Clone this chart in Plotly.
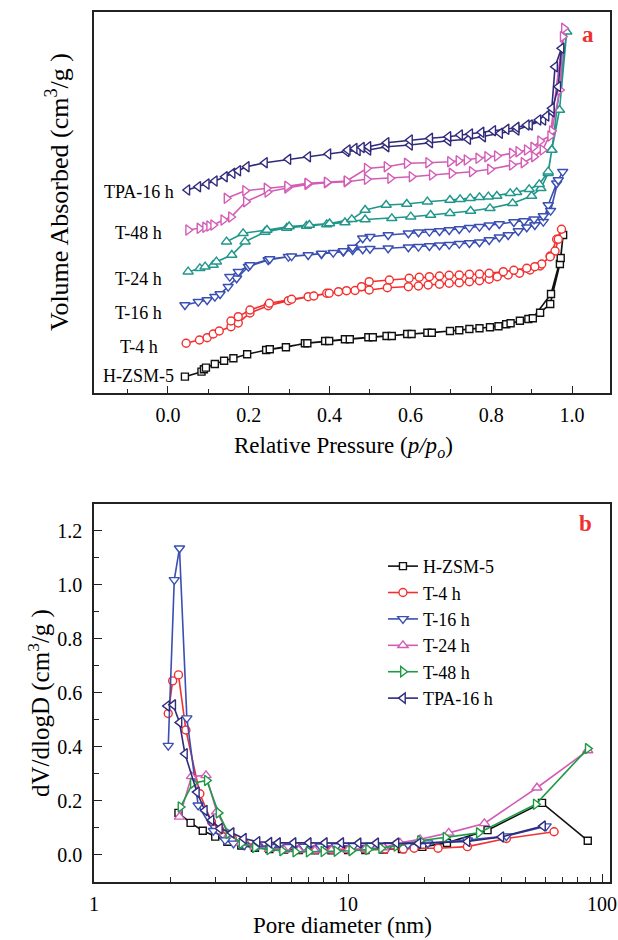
import plotly.graph_objects as go

# ================= Panel (a): N2 isotherms (offset, arbitrary units) =================
# H-ZSM-5
hz_ads_p = [0.042,0.083,0.089,0.094,0.116,0.139,0.162,0.196,0.243,0.292,0.339,0.389,0.438,0.496,0.541,0.592,0.642,0.698,0.746,0.797,0.837,0.871,0.892,0.921,0.946,0.970,0.978]
hz_ads_v = [16.3,21.3,23.7,25.3,29.0,32.3,34.7,38.7,43.0,45.7,49.7,52.0,53.7,55.7,57.0,59.0,60.3,62.0,64.0,65.7,68.7,72.3,74.0,80.3,89.0,129.0,158.0]
hz_des_p = [0.972,0.948,0.903,0.848,0.818,0.771,0.721,0.653,0.603,0.554,0.507,0.450,0.399,0.345,0.252]
hz_des_v = [135.0,99.0,74.7,69.7,66.7,64.7,62.7,60.3,59.0,57.0,55.7,53.7,52.0,49.7,43.7]

# T-4 h
t4_ads_p = [0.045,0.078,0.097,0.112,0.127,0.156,0.174,0.203,0.248,0.298,0.347,0.393,0.422,0.463,0.498,0.543,0.595,0.620,0.644,0.672,0.696,0.721,0.746,0.771,0.795,0.815,0.842,0.870,0.896,0.921,0.946,0.962,0.974]
t4_ads_v = [49.7,53.0,55.3,59.0,62.0,66.3,70.0,80.0,87.3,92.3,96.3,99.7,101.3,102.5,103.0,105.3,106.3,107.0,108.0,108.7,109.7,110.3,111.3,112.3,113.7,116.3,118.0,119.7,123.0,127.0,137.0,153.7,163.7]
t4_des_p = [0.966,0.958,0.946,0.925,0.908,0.888,0.856,0.830,0.795,0.771,0.746,0.721,0.696,0.672,0.647,0.622,0.597,0.548,0.498,0.479,0.442,0.399,0.361,0.306,0.251,0.203,0.174,0.156]
t4_des_v = [153.7,142.0,136.3,129.0,126.3,124.7,122.7,121.3,119.7,119.0,118.7,118.0,117.7,117.0,116.3,115.7,114.7,113.0,111.3,106.3,102.3,99.7,97.0,93.7,89.7,83.0,76.3,72.0]

# T-16 h
t16_ads_p = [0.042,0.075,0.097,0.116,0.129,0.149,0.170,0.199,0.248,0.298,0.347,0.380,0.409,0.434,0.457,0.482,0.500,0.545,0.595,0.620,0.647,0.672,0.696,0.721,0.746,0.771,0.795,0.820,0.842,0.867,0.888,0.908,0.929,0.941,0.962,0.977]
t16_ads_v = [88.0,91.3,93.0,96.3,99.0,106.3,114.7,126.3,133.0,136.3,138.0,139.0,140.3,141.3,143.0,143.7,144.2,144.7,145.7,146.3,147.0,147.7,148.3,149.3,150.0,150.7,153.0,155.7,158.0,162.0,165.7,168.0,171.3,188.0,209.7,221.3]
t16_des_p = [0.966,0.947,0.929,0.906,0.881,0.856,0.820,0.795,0.771,0.746,0.721,0.696,0.672,0.647,0.620,0.595,0.545,0.500,0.482,0.457,0.434,0.380,0.306,0.252,0.203,0.174,0.153]
t16_des_v = [213.0,182.3,177.0,173.7,172.0,171.0,169.0,167.7,166.3,165.3,164.0,163.0,162.0,161.3,160.7,159.7,158.0,156.3,154.7,145.5,142.0,139.5,136.8,134.0,128.0,121.3,116.3]

# T-24 h (panel a)
t24_ads_p = [0.050,0.079,0.092,0.112,0.120,0.158,0.191,0.240,0.294,0.343,0.393,0.438,0.488,0.554,0.601,0.650,0.698,0.749,0.797,0.853,0.900,0.923,0.941,0.950,0.969,0.987]
t24_ads_v = [121.3,124.7,126.3,128.0,131.3,138.0,151.3,161.0,165.0,167.0,168.5,170.5,173.5,174.7,176.3,178.0,179.7,182.0,184.7,189.7,197.0,204.7,219.7,243.0,283.0,361.3]
t24_des_p = [0.950,0.941,0.919,0.894,0.863,0.847,0.814,0.793,0.771,0.748,0.723,0.698,0.642,0.591,0.540,0.488,0.455,0.400,0.350,0.300,0.245,0.186,0.145]
t24_des_v = [243.0,221.3,208.7,203.7,200.7,199.7,197.0,196.3,195.7,194.7,193.7,193.0,191.3,189.0,188.0,183.0,173.7,169.5,168.0,166.5,163.0,159.7,151.3]

# T-48 h (panel a)
t48_ads_p = [0.050,0.078,0.092,0.102,0.112,0.137,0.156,0.193,0.246,0.295,0.345,0.393,0.442,0.492,0.550,0.603,0.653,0.702,0.752,0.797,0.851,0.880,0.906,0.927,0.950,0.970,0.980]
t48_ads_v = [163.0,164.7,165.7,167.0,168.0,173.0,176.0,191.3,201.0,205.0,208.5,210.3,211.3,213.7,214.7,216.3,218.0,219.7,221.3,223.7,228.0,230.3,236.3,243.0,262.0,303.0,364.7]
t48_des_p = [0.977,0.946,0.921,0.904,0.888,0.867,0.851,0.814,0.790,0.768,0.739,0.719,0.698,0.644,0.591,0.541,0.492,0.442,0.393,0.345,0.295,0.244,0.191,0.145]
t48_des_v = [356.3,257.0,252.0,245.7,243.0,241.3,239.7,237.0,236.3,234.7,233.0,232.3,231.3,230.3,229.7,226.3,224.5,212.0,210.8,209.7,206.8,204.7,202.3,194.7]

# TPA-16 h
tpa_ads_p = [0.048,0.075,0.096,0.116,0.141,0.160,0.174,0.195,0.240,0.298,0.347,0.397,0.442,0.470,0.496,0.541,0.599,0.649,0.694,0.743,0.780,0.822,0.863,0.896,0.929,0.950,0.966,0.974]
tpa_ads_v = [203.0,206.3,209.0,212.0,216.3,219.7,222.3,226.3,230.3,233.7,236.3,239.0,241.5,242.5,243.0,246.3,248.0,250.3,252.3,253.7,256.3,259.7,263.0,268.0,273.0,281.3,306.3,344.7]
tpa_des_p = [0.958,0.950,0.937,0.917,0.888,0.863,0.838,0.805,0.776,0.748,0.723,0.694,0.649,0.599,0.541,0.496,0.480,0.462,0.445]
tpa_des_v = [326.3,284.7,277.0,273.0,268.0,265.7,263.7,262.3,260.7,259.0,258.0,256.3,254.7,253.0,250.3,246.3,245.5,244.5,243.0]

# ================= Panel (b): BJH pore size distribution =================
hz_d = [2.15,2.40,2.68,3.00,3.35,3.80,4.30,4.90,5.60,6.40,7.40,8.60,10.0,11.7,13.8,16.3,19.6,24.5,35.4,58.0,87.8]
hz_dv = [0.156,0.119,0.090,0.068,0.049,0.035,0.027,0.022,0.020,0.018,0.017,0.017,0.018,0.018,0.020,0.022,0.030,0.045,0.092,0.193,0.053]

t4_d = [1.96,2.04,2.15,2.30,2.61,2.90,3.13,3.50,3.90,4.40,5.00,5.70,6.50,7.50,8.70,10.1,11.8,14.0,16.5,18.2,22.6,29.5,42.0,64.7]
t4_dv = [0.524,0.645,0.667,0.463,0.227,0.123,0.092,0.062,0.045,0.035,0.030,0.026,0.024,0.022,0.021,0.021,0.021,0.022,0.022,0.025,0.025,0.031,0.061,0.086]

t16_d = [1.96,2.07,2.17,2.32,2.57,2.95,3.28,3.54,3.90,4.40,5.00,5.80,6.70,7.80,9.00,10.5,12.3,14.5,17.2,20.6,29.5,42.0,60.2]
t16_dv = [0.405,1.019,1.136,0.507,0.184,0.090,0.055,0.043,0.036,0.032,0.030,0.030,0.031,0.032,0.033,0.034,0.035,0.037,0.039,0.044,0.055,0.070,0.107]

t24_d = [2.17,2.42,2.76,3.04,3.40,3.80,4.30,4.90,5.60,6.40,7.40,8.60,10.0,11.7,13.8,16.0,19.2,24.9,34.4,55.4,87.8]
t24_dv = [0.141,0.291,0.295,0.160,0.075,0.045,0.030,0.022,0.018,0.017,0.016,0.017,0.018,0.022,0.028,0.045,0.058,0.082,0.117,0.249,0.387]

t48_d = [2.19,2.45,2.78,3.09,3.38,3.81,4.30,4.90,5.50,6.20,7.00,8.00,9.00,10.3,12.0,13.5,15.5,19.2,24.2,32.7,54.8,87.8]
t48_dv = [0.178,0.266,0.276,0.156,0.080,0.043,0.028,0.020,0.016,0.012,0.012,0.013,0.014,0.016,0.020,0.025,0.033,0.053,0.065,0.082,0.188,0.394]

tpa_d = [1.94,2.05,2.17,2.28,2.54,2.73,2.90,3.13,3.48,3.89,4.40,4.90,5.30,6.10,7.00,8.10,9.40,11.0,12.9,15.5,18.9,29.5,40.1,58.5]
tpa_dv = [0.552,0.556,0.491,0.375,0.233,0.165,0.129,0.098,0.082,0.061,0.049,0.046,0.045,0.045,0.045,0.045,0.045,0.044,0.044,0.044,0.043,0.050,0.067,0.107]

# curve labels of panel (a) and their vertical placement
a_labels = ["H-ZSM-5", "T-4 h", "T-16 h", "T-24 h", "T-48 h", "TPA-16 h"]
a_label_y = [17, 46, 80, 114, 160, 201]

p_ticks = [0.0, 0.2, 0.4, 0.6, 0.8, 1.0]
dv_ticks = [0.0, 0.2, 0.4, 0.6, 0.8, 1.0, 1.2]
d_ticks = [1, 10, 100]

# ---------------- styling ----------------
FONT = "Liberation Serif"
BLACK = "#111111"
RED = "#F23030"
BLUE = "#3A4FB2"
TEAL = "#21968A"
PINK = "#D35CB6"
PURPLE = "#2F2A7C"
GREEN = "#1E9A45"

fig = go.Figure()

iso = [
    (hz_ads_p, hz_ads_v, hz_des_p, hz_des_v, BLACK, "square", 7),
    (t4_ads_p, t4_ads_v, t4_des_p, t4_des_v, RED, "circle", 8),
    (t16_ads_p, t16_ads_v, t16_des_p, t16_des_v, BLUE, "triangle-down", 9),
    (t24_ads_p, t24_ads_v, t24_des_p, t24_des_v, TEAL, "triangle-up", 9),
    (t48_ads_p, t48_ads_v, t48_des_p, t48_des_v, PINK, "triangle-right", 9),
    (tpa_ads_p, tpa_ads_v, tpa_des_p, tpa_des_v, PURPLE, "triangle-left", 9),
]
for ap, av, dp, dv, col, sym, sz in iso:
    fig.add_trace(go.Scatter(
        x=ap + dp, y=av + dv, mode="lines+markers", xaxis="x", yaxis="y",
        line=dict(color=col, width=1.6), showlegend=False,
        marker=dict(symbol=sym, size=sz, color="white", line=dict(color=col, width=1.4)),
    ))

psd = [
    ("H-ZSM-5", hz_d, hz_dv, BLACK, "square", 7),
    ("T-4 h", t4_d, t4_dv, RED, "circle", 8),
    ("T-16 h", t16_d, t16_dv, BLUE, "triangle-down", 9),
    ("T-24 h", t24_d, t24_dv, PINK, "triangle-up", 9),
    ("T-48 h", t48_d, t48_dv, GREEN, "triangle-right", 9),
    ("TPA-16 h", tpa_d, tpa_dv, PURPLE, "triangle-left", 9),
]
for name, d, v, col, sym, sz in psd:
    fig.add_trace(go.Scatter(
        x=d, y=v, name=name, mode="lines+markers", xaxis="x2", yaxis="y2",
        line=dict(color=col, width=1.6),
        marker=dict(symbol=sym, size=sz, color="white", line=dict(color=col, width=1.4)),
    ))

tickfont = dict(family=FONT, size=20, color="black")
axis_common = dict(showline=True, linecolor="#222222", linewidth=1.6, mirror=True,
                   showgrid=False, zeroline=False, tickcolor="#222222", tickwidth=1.4,
                   automargin=False)

annotations = []
for txt, yy in zip(a_labels, a_label_y):
    annotations.append(dict(x=-0.072, y=yy, xref="x", yref="y", text=txt, showarrow=False,
                            xanchor="center", yanchor="middle",
                            font=dict(family=FONT, size=18, color="black")))
annotations += [
    dict(x=0.957, y=0.9736, xref="paper", yref="paper", text="<b>a</b>", showarrow=False,
         xanchor="center", yanchor="middle",
         font=dict(family=FONT, size=23, color="#F03030")),
    dict(x=0.9516, y=0.4115, xref="paper", yref="paper", text="<b>b</b>", showarrow=False,
         xanchor="center", yanchor="middle",
         font=dict(family=FONT, size=23, color="#F03030")),
    dict(x=-0.0718, y=0.793, xref="paper", yref="paper", textangle=-90, showarrow=False,
         text="Volume Absorbed (cm<sup>3</sup>/g )", xanchor="center", yanchor="middle",
         font=dict(family=FONT, size=26, color="black")),
    dict(x=-0.1067, y=0.2057, xref="paper", yref="paper", textangle=-90, showarrow=False,
         text="dV/dlogD (cm<sup>3</sup>/g )", xanchor="center", yanchor="middle",
         font=dict(family=FONT, size=25, color="black")),
    dict(x=0.4826, y=0.5, xref="paper", yref="paper", showarrow=False,
         text="Relative Pressure (<i>p/p<sub>o</sub></i>)", xanchor="center", yanchor="middle",
         font=dict(family=FONT, size=23, color="black")),
    dict(x=0.481, y=-0.0495, xref="paper", yref="paper", showarrow=False,
         text="Pore diameter (nm)", xanchor="center", yanchor="middle",
         font=dict(family=FONT, size=23, color="black")),
]

fig.update_layout(
    width=618, height=940,
    margin=dict(l=94, r=8, t=12, b=58),
    paper_bgcolor="white", plot_bgcolor="white",
    font=dict(family=FONT, color="black"),
    xaxis=dict(domain=[0, 1], anchor="y", range=[-0.183, 1.094],
               tickvals=p_ticks, ticktext=[f"{t:.1f}" for t in p_ticks],
               ticks="inside", ticklen=7, tickfont=tickfont, ticklabelstandoff=3,
               minor=dict(dtick=0.1, ticks="inside", ticklen=4, tickcolor="#222222", tickwidth=1.2),
               **axis_common),
    yaxis=dict(domain=[0.5621, 1.0], anchor="x", range=[0, 381],
               showticklabels=False, ticks="", **axis_common),
    xaxis2=dict(domain=[0, 1], anchor="y2", type="log", range=[0, 2.031],
                tickvals=d_ticks, ticktext=[str(t) for t in d_ticks],
                ticks="inside", ticklen=8, tickfont=tickfont, ticklabelstandoff=3,
                minor=dict(tickvals=[2,3,4,5,6,7,8,9,20,30,40,50,60,70,80,90],
                           ticks="inside", ticklen=5, tickcolor="#222222", tickwidth=1.2),
                **axis_common),
    yaxis2=dict(domain=[0, 0.4345], anchor="x2", range=[-0.1, 1.3],
                tickvals=dv_ticks, ticktext=[f"{t:.1f}" for t in dv_ticks],
                ticks="inside", ticklen=8, tickfont=tickfont, ticklabelstandoff=6,
                minor=dict(dtick=0.1, ticks="inside", ticklen=5, tickcolor="#222222", tickwidth=1.2),
                **axis_common),
    legend=dict(x=0.56, y=0.384, xanchor="left", yanchor="top",
                bgcolor="rgba(0,0,0,0)", borderwidth=0, tracegroupgap=0,
                font=dict(family=FONT, size=18, color="black")),
    annotations=annotations,
)

fig.write_html("out.html", config={"displayModeBar": False},
               post_script="document.body.style.margin='0';document.body.style.overflow='hidden';")
